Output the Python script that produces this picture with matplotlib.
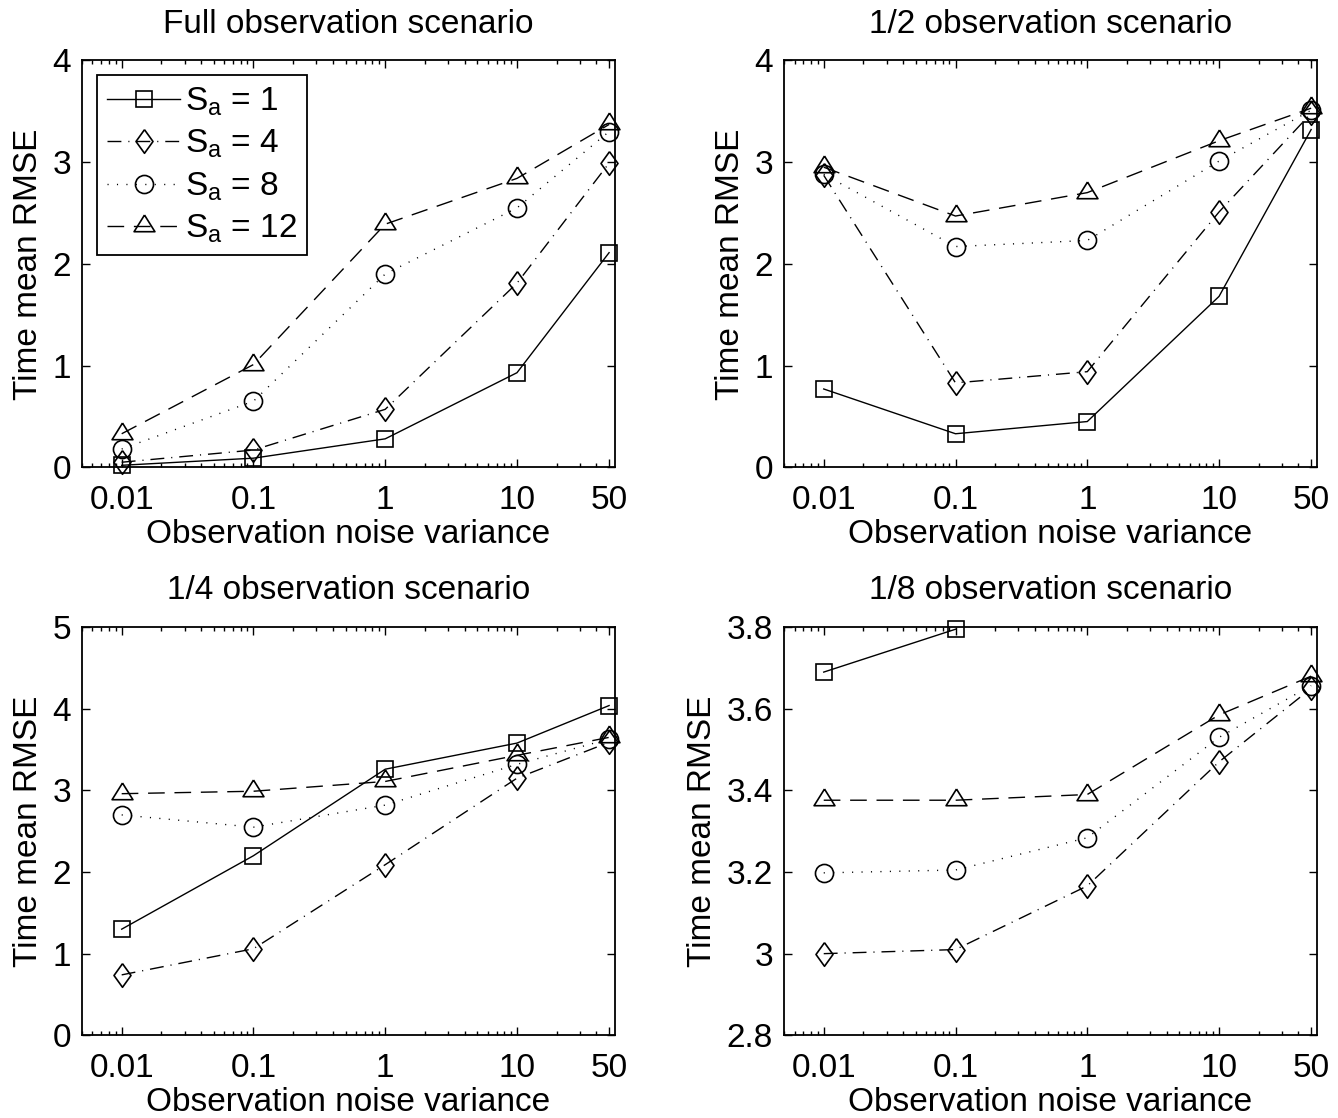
# RMSE vs observation noise variance, four observation scenarios
import numpy as np
import matplotlib
matplotlib.use("Agg")
import matplotlib.pyplot as plt
from matplotlib.ticker import FixedLocator, FixedFormatter, FuncFormatter, LogLocator, NullFormatter

plt.rcParams['font.family'] = ['Liberation Sans', 'DejaVu Sans']
plt.rcParams['mathtext.default'] = 'regular'
FS = 24

# ---- data ----
noise_var = [0.01, 0.1, 1, 10, 50]
noise_labels = ['0.01', '0.1', '1', '10', '50']
sa_labels = [r'S$_a$ = 1', r'S$_a$ = 4', r'S$_a$ = 8', r'S$_a$ = 12']

full_s1 = [0.02, 0.09, 0.28, 0.93, 2.11]
full_s4 = [0.05, 0.17, 0.57, 1.81, 2.99]
full_s8 = [0.18, 0.65, 1.90, 2.55, 3.30]
full_s12 = [0.33, 1.01, 2.39, 2.84, 3.37]

half_s1 = [0.77, 0.33, 0.45, 1.68, 3.32]
half_s4 = [2.87, 0.83, 0.94, 2.51, 3.48]
half_s8 = [2.88, 2.17, 2.23, 3.01, 3.51]
half_s12 = [2.95, 2.47, 2.70, 3.21, 3.53]

quarter_s1 = [1.30, 2.20, 3.26, 3.58, 4.04]
quarter_s4 = [0.74, 1.06, 2.09, 3.15, 3.59]
quarter_s8 = [2.70, 2.55, 2.82, 3.32, 3.63]
quarter_s12 = [2.96, 2.99, 3.11, 3.43, 3.65]

eighth_s1 = [3.69, 3.795, np.nan, np.nan, np.nan]
eighth_s4 = [3.00, 3.01, 3.166, 3.47, 3.65]
eighth_s8 = [3.198, 3.205, 3.284, 3.53, 3.657]
eighth_s12 = [3.376, 3.376, 3.39, 3.585, 3.68]

titles = ['Full observation scenario', '1/2 observation scenario',
          '1/4 observation scenario', '1/8 observation scenario']
panels = [
    [full_s1, full_s4, full_s8, full_s12],
    [half_s1, half_s4, half_s8, half_s12],
    [quarter_s1, quarter_s4, quarter_s8, quarter_s12],
    [eighth_s1, eighth_s4, eighth_s8, eighth_s12],
]
ylims = [(0, 4), (0, 4), (0, 5), (2.8, 3.8)]
yticks = [[0, 1, 2, 3, 4], [0, 1, 2, 3, 4], [0, 1, 2, 3, 4, 5],
          [2.8, 3.0, 3.2, 3.4, 3.6, 3.8]]

# ---- styles (matlab-ish) ----
diamond = [(0, 1), (0.72, 0), (0, -1), (-0.72, 0), (0, 1)]
triangle = [(0, 1.1), (1, -0.5), (-1, -0.5), (0, 1.1)]
styles = [
    dict(ls='-', marker='s', ms=12),
    dict(ls=(0, (10, 5, 0.8, 5)), marker=diamond, ms=17),
    dict(ls=(0, (0.8, 6)), marker='o', ms=13),
    dict(ls=(0, (12, 7)), marker=triangle, ms=16.5),
]

fig = plt.figure(figsize=(13.38, 11.18), dpi=100)
positions = [
    [0.0613, 0.582, 0.398, 0.364],
    [0.586, 0.582, 0.398, 0.364],
    [0.0613, 0.074, 0.398, 0.365],
    [0.586, 0.074, 0.398, 0.365],
]

for i in range(4):
    ax = fig.add_axes(positions[i])
    for series, st, lab in zip(panels[i], styles, sa_labels):
        ax.plot(noise_var, series, color='black', lw=1.0, linestyle=st['ls'],
                marker=st['marker'], ms=st['ms'], mfc='none', mec='black',
                mew=1.2, label=lab, clip_on=False)
    ax.set_xscale('log')
    ax.set_xlim(0.005, 55)
    ax.set_ylim(*ylims[i])
    ax.xaxis.set_major_locator(FixedLocator(noise_var))
    ax.xaxis.set_major_formatter(FixedFormatter(noise_labels))
    ax.xaxis.set_minor_locator(LogLocator(base=10, subs=np.arange(2, 10), numticks=20))
    ax.xaxis.set_minor_formatter(NullFormatter())
    ax.set_yticks(yticks[i])
    ax.yaxis.set_major_formatter(FuncFormatter(lambda v, p: '%g' % round(v, 2)))
    ax.tick_params(which='both', direction='in', top=True, right=True,
                   labelsize=FS, width=1.0)
    ax.tick_params(axis='x', pad=13)
    ax.tick_params(axis='y', pad=8)
    ax.tick_params(which='major', length=6)
    ax.tick_params(which='minor', length=3)
    for sp in ax.spines.values():
        sp.set_linewidth(1.3)
    ax.set_title(titles[i], fontsize=FS, pad=20)
    ax.set_xlabel('Observation noise variance', fontsize=FS, labelpad=2)
    ax.set_ylabel('Time mean RMSE', fontsize=FS, labelpad=6)

    if i == 0:
        leg = ax.legend(loc='upper left', fontsize=FS, numpoints=1,
                        handlelength=2.2, handletextpad=0.15, labelspacing=0.3,
                        borderpad=0.3, borderaxespad=0.45, fancybox=False,
                        framealpha=1, edgecolor='black')
        leg.get_frame().set_linewidth(1.3)

fig.savefig('out.png', dpi=100)
